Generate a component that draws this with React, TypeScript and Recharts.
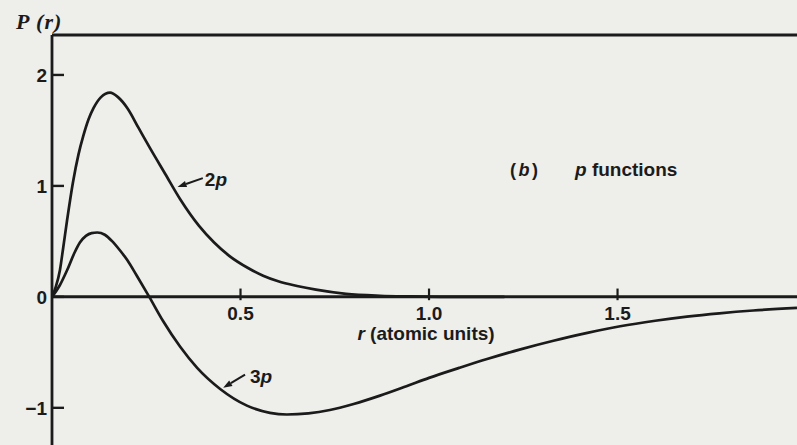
import React from 'react';
import { LineChart, Line, XAxis, YAxis, ReferenceLine } from 'recharts';

// axis ranges (r in atomic units, P(r) radial function)
const R_MAX = 1.976;
const P_MIN = -1.335;
const P_MAX = 2.36;

const pTicks = [-1, 0, 1, 2];
const rTicks = [0.5, 1.0, 1.5];
const rTickLabels = ['0.5', '1.0', '1.5'];

// 2p radial function
const r2p = [0, 0.01, 0.021, 0.03, 0.04, 0.056, 0.07, 0.083, 0.097, 0.11, 0.13, 0.154, 0.175, 0.2, 0.23, 0.26, 0.3, 0.34, 0.39, 0.43, 0.47, 0.52, 0.56, 0.6, 0.65, 0.7, 0.78, 0.87, 0.95, 1.05, 1.2];
const p2p = [0, 0.09, 0.24, 0.45, 0.69, 1.04, 1.28, 1.45, 1.6, 1.7, 1.8, 1.84, 1.8, 1.7, 1.52, 1.34, 1.11, 0.88, 0.64, 0.49, 0.37, 0.26, 0.19, 0.14, 0.098, 0.065, 0.027, 0.01, 0.004, 0, 0];

// 3p radial function
const r3p = [0, 0.02, 0.04, 0.06, 0.074, 0.09, 0.105, 0.12, 0.14, 0.16, 0.18, 0.2, 0.225, 0.258, 0.295, 0.34, 0.385, 0.446, 0.517, 0.578, 0.623, 0.68, 0.737, 0.8, 0.87, 0.94, 1.0, 1.08, 1.154, 1.24, 1.33, 1.42, 1.507, 1.6, 1.684, 1.77, 1.86, 1.976];
const p3p = [0, 0.1, 0.24, 0.4, 0.49, 0.55, 0.575, 0.58, 0.56, 0.5, 0.42, 0.33, 0.19, 0, -0.22, -0.45, -0.64, -0.83, -0.98, -1.045, -1.06, -1.05, -1.02, -0.965, -0.89, -0.805, -0.73, -0.64, -0.56, -0.475, -0.395, -0.325, -0.265, -0.215, -0.178, -0.148, -0.123, -0.1];

// curve labels: arrow from text to curve, in data coordinates
const curveLabels = [
  { name: '2', from: { x: 0.4, y: 1.07 }, to: { x: 0.333, y: 0.99 }, dx: 2, dy: 8 },
  { name: '3', from: { x: 0.512, y: -0.7 }, to: { x: 0.454, y: -0.82 }, dx: 5, dy: 8 },
];

const INK = '#1b1b1b';
const PAPER = '#eeeeeb';
const SANS = '"Liberation Sans", Arial, sans-serif';
const SERIF = '"Liberation Serif", "Times New Roman", serif';

const toPoints = (rs: number[], ps: number[]) => rs.map((r, i) => ({ r, p: ps[i] }));
const data2p = toPoints(r2p, p2p);
const data3p = toPoints(r3p, p3p);

function PTick(props: any) {
  const { x, y, payload } = props;
  const label = payload.value < 0 ? `\u2212${Math.abs(payload.value)}` : String(payload.value);
  return (
    <g>
      <line x1={x} y1={y} x2={x + 12} y2={y} stroke={INK} strokeWidth={2.4} />
      <text x={x - 5} y={y} dy="0.36em" textAnchor="end" fill={INK}
        fontFamily={SANS} fontWeight="bold" fontSize={19}>
        {label}
      </text>
    </g>
  );
}

function rTickShape(label: string) {
  return (props: any) => {
    const { x1, y1, x2, y2 } = props;
    const bottom = Math.max(y1, y2);
    return (
      <g>
        <line x1={x1} y1={y1} x2={x2} y2={y2} stroke={INK} strokeWidth={2.2} />
        <text x={x1} y={bottom + 20} textAnchor="middle" fill={INK}
          fontFamily={SANS} fontWeight="bold" fontSize={19}>
          {label}
        </text>
      </g>
    );
  };
}

function arrowShape(name: string, dx: number, dy: number) {
  return (props: any) => {
    const { x1, y1, x2, y2 } = props;
    const len = Math.hypot(x2 - x1, y2 - y1) || 1;
    const ux = (x2 - x1) / len;
    const uy = (y2 - y1) / len;
    const bx = x2 - ux * 9;
    const by = y2 - uy * 9;
    const head = `${x2},${y2} ${bx - uy * 3.2},${by + ux * 3.2} ${bx + uy * 3.2},${by - ux * 3.2}`;
    return (
      <g>
        <line x1={x1} y1={y1} x2={bx} y2={by} stroke={INK} strokeWidth={2} />
        <polygon points={head} fill={INK} />
        <text x={x1 + dx} y={y1 + dy} fill={INK} fontFamily={SANS} fontWeight="bold" fontSize={19}>
          {name}
          <tspan fontStyle="italic">p</tspan>
        </text>
      </g>
    );
  };
}

export default function App() {
  return (
    <div style={{ position: 'fixed', left: 0, top: 0, width: 797, height: 445, background: PAPER, overflow: 'hidden' }}>
      <LineChart width={797} height={445} margin={{ top: 35, right: 0, bottom: 0, left: 8 }}>
        <XAxis dataKey="r" type="number" domain={[0, R_MAX]} allowDataOverflow hide />
        <YAxis
          type="number"
          domain={[P_MIN, P_MAX]}
          allowDataOverflow
          ticks={pTicks}
          width={44}
          tickSize={0}
          tickMargin={0}
          tickLine={false}
          axisLine={{ stroke: INK, strokeWidth: 2.8 }}
          tick={PTick}
          interval={0}
        />
        <ReferenceLine y={P_MAX} stroke={INK} strokeWidth={2.8} />
        <ReferenceLine y={0} stroke={INK} strokeWidth={3} />
        {rTicks.map((t, i) => (
          <ReferenceLine
            key={t}
            segment={[{ x: t, y: -0.03 }, { x: t, y: 0.075 }]}
            shape={rTickShape(rTickLabels[i])}
          />
        ))}
        <Line data={data2p} dataKey="p" type="monotone" stroke={INK} strokeWidth={2.7}
          dot={false} activeDot={false} isAnimationActive={false} />
        <Line data={data3p} dataKey="p" type="monotone" stroke={INK} strokeWidth={2.7}
          dot={false} activeDot={false} isAnimationActive={false} />
        {curveLabels.map((c) => (
          <ReferenceLine
            key={c.name}
            segment={[c.from, c.to]}
            shape={arrowShape(c.name, c.dx, c.dy)}
          />
        ))}
      </LineChart>
      <svg width={797} height={445} style={{ position: 'absolute', left: 0, top: 0, pointerEvents: 'none' }}>
        <text x={16} y={29} fill={INK} fontFamily={SERIF} fontWeight="bold" fontStyle="italic"
          fontSize={22} letterSpacing={1}>
          P (r)
        </text>
        <text x={510} y={176} fill={INK} fontFamily={SANS} fontWeight="bold" fontSize={18} letterSpacing={2.5}>
          (<tspan fontStyle="italic">b</tspan>)
        </text>
        <text x={575} y={176} fill={INK} fontFamily={SANS} fontWeight="bold" fontSize={19}>
          <tspan fontStyle="italic">p</tspan> functions
        </text>
        <text x={426} y={340} textAnchor="middle" fill={INK} fontFamily={SANS} fontWeight="bold" fontSize={19}>
          <tspan fontStyle="italic">r</tspan> (atomic units)
        </text>
      </svg>
    </div>
  );
}
